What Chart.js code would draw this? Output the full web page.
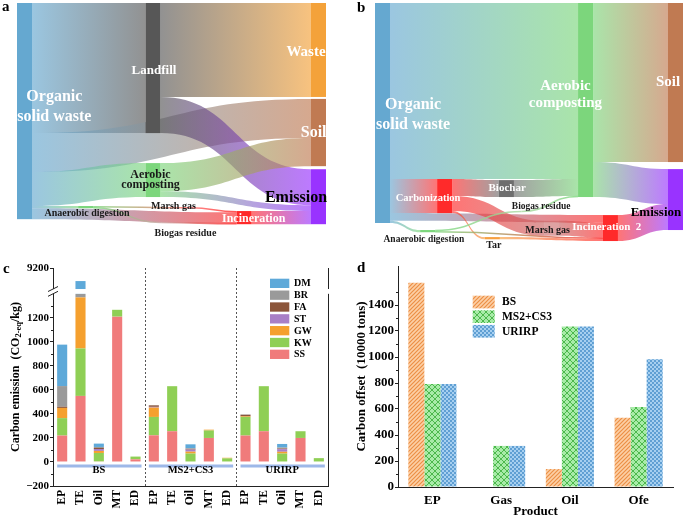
<!DOCTYPE html>
<html>
<head>
<meta charset="utf-8">
<title>Carbon flows, emissions and offsets of organic solid waste</title>
<script src="https://cdn.jsdelivr.net/npm/chart.js@4.4.1/dist/chart.umd.min.js"></script>
<style>
  html, body { margin: 0; padding: 0; background: #fff; }
  #page { position: relative; width: 685px; height: 517px; overflow: hidden; }
  #page canvas { position: absolute; }
  .tag { position: absolute; font: bold 15px "Liberation Serif", "Times New Roman", serif; line-height: 1; color: #000; }
</style>
</head>
<body>
<div id="page">
  <canvas id="flowA" width="345" height="250" style="left:0;top:0"></canvas>
  <canvas id="flowB" width="340" height="250" style="left:345px;top:0"></canvas>
  <canvas id="emission" width="345" height="262" style="left:0;top:255px"></canvas>
  <canvas id="offset" width="340" height="262" style="left:345px;top:255px"></canvas>
  <div class="tag" style="left:2px;top:-1px">a</div>
  <div class="tag" style="left:357px;top:0px">b</div>
  <div class="tag" style="left:3px;top:261px">c</div>
  <div class="tag" style="left:357px;top:260px">d</div>
</div>
<script>
// ---------- a : carbon flow of the current route (share of input, %) ----------
var flowANodes = ['Organic solid waste', 'Anaerobic digestion', 'Landfill', 'Aerobic composting',
                  'Marsh gas', 'Biogas residue', 'Incineration', 'Waste', 'Soil', 'Emission'];
var flowAFrom = ['Organic solid waste', 'Organic solid waste', 'Organic solid waste', 'Organic solid waste',
                 'Organic solid waste', 'Landfill', 'Landfill', 'Aerobic composting', 'Aerobic composting',
                 'Anaerobic digestion', 'Anaerobic digestion', 'Marsh gas', 'Biogas residue', 'Incineration'];
var flowATo = ['Landfill', 'Soil', 'Aerobic composting', 'Anaerobic digestion', 'Incineration',
               'Waste', 'Emission', 'Soil', 'Emission', 'Marsh gas', 'Biogas residue',
               'Incineration', 'Incineration', 'Emission'];
var flowAValue = [59.4, 17.8, 15.5, 1, 5, 42.9, 16.5, 12.9, 2.6, 0.6, 0.4, 0.6, 0.4, 6];

// ---------- b : carbon flow with carbonization (share of input, %) ----------
var flowBNodes = ['Organic solid waste', 'Anaerobic digestion', 'Carbonization', 'Tar', 'Biochar',
                  'Biogas residue', 'Marsh gas', 'Aerobic composting', 'Incineration 2', 'Soil', 'Emission'];
var flowBFrom = ['Organic solid waste', 'Organic solid waste', 'Organic solid waste', 'Organic solid waste',
                 'Carbonization', 'Carbonization', 'Carbonization', 'Biochar',
                 'Anaerobic digestion', 'Anaerobic digestion', 'Biogas residue', 'Marsh gas', 'Tar',
                 'Aerobic composting', 'Aerobic composting', 'Incineration 2'];
var flowBTo = ['Aerobic composting', 'Carbonization', 'Incineration 2', 'Anaerobic digestion',
               'Biochar', 'Marsh gas', 'Tar', 'Aerobic composting',
               'Biogas residue', 'Incineration 2', 'Aerobic composting', 'Incineration 2', 'Incineration 2',
               'Soil', 'Emission', 'Emission'];
var flowBValue = [80, 15.5, 3.5, 1, 7.7, 6.8, 1, 7.7, 0.5, 0.5, 0.5, 6.8, 1, 72.3, 15.9, 11.8];

// ---------- c : carbon emission (CO2-eq/kg) ----------
var scenarios = ['BS', 'MS2+CS3', 'URIRP'];
var products = ['EP', 'TE', 'Oil', 'MT', 'ED'];
var emissionSS = [220, 550, 5, 1210, 22,   222, 256, 0, 200, 0,   220, 256, 0, 200, 0];
var emissionKW = [145, 395, 70, 57, 23,    153, 375, 70, 62, 30,  155, 375, 70, 56, 32];
var emissionGW = [85, 425, 17, 0, 0,       78, 0, 16, 7, 5,       5, 0, 15, 0, 0];
var emissionST = [0, 0, 16, 0, 0,          6, 0, 17, 0, 0,        0, 0, 22, 0, 0];
var emissionFA = [10, 0, 9, 0, 0,          12, 0, 6, 0, 0,        13, 0, 5, 0, 0];
var emissionBR = [172, 35, 8, 0, 0,        3, 0, 5, 0, 0,         3, 0, 8, 0, 0];
var emissionDM = [345, 7360, 28, 0, 0,     0, 0, 33, 0, 0,        0, 0, 30, 0, 0];
var emissionTicks = [-200, 0, 200, 400, 600, 800, 1000, 1200, 9200];

// ---------- d : carbon offset (10000 tons) ----------
var offsetProducts = ['EP', 'Gas', 'Oil', 'Ofe'];
var offsetBS = [1571, 0, 138, 532];
var offsetMS = [792, 316, 1235, 615];
var offsetURIRP = [792, 316, 1235, 983];

// ================= styling and layout =================
Chart.defaults.font.family = '"Liberation Serif", "Times New Roman", serif';
Chart.defaults.font.weight = 'bold';
Chart.defaults.color = '#000';

function serif(size) {
    return 'bold ' + size + 'px "Liberation Serif", "Times New Roman", serif';
}

function rgba(hex, a) {
    var n = parseInt(hex.slice(1), 16);
    return 'rgba(' + (n >> 16) + ',' + ((n >> 8) & 255) + ',' + (n & 255) + ',' + a + ')';
}

function plainNumber(v) {
    return v < 0 ? '\u2212' + (-v) : String(v);
}

// sankey look: column (0..1 across the plot), space above each node in its column, colour
var flowAStyle = {
    cols:   [0, .208, .437, .437, .59, .49, .747, 1, 1, 1],
    gaps:   [0, 92.7, 0, 13.7, 93.2, 100, 95, 0, .9, 1.4],
    colors: ['#65a8d0', '#7cd67c', '#575757', '#7cd67c', '#ff6a6a', '#c9a0a0', '#ff2a2a', '#f4a23a', '#c07a52', '#9933ff'],
    ghost: ['Marsh gas', 'Biogas residue'],
    faded: [],
    labels: [
        { text: ['Organic', 'solid waste'], x: .127, y: 47.5, size: 16, color: '#fff', lh: 20 },
        { text: ['Landfill'], x: .466, y: 31, size: 13, color: '#fff' },
        { text: ['Waste'], x: .983, y: 22.4, size: 15, color: '#fff' },
        { text: ['Soil'], x: 1.009, y: 59.4, size: 16, color: '#fff' },
        { text: ['Emission'], x: .949, y: 89, size: 16, color: '#000' },
        { text: ['Aerobic', 'composting'], x: .454, y: 80.8, size: 12, color: '#1a1a1a', lh: 10.5 },
        { text: ['Anaerobic digestion'], x: .238, y: 95.9, size: 10, color: '#1a1a1a' },
        { text: ['Marsh gas'], x: .532, y: 92.7, size: 10, color: '#1a1a1a' },
        { text: ['Incineration'], x: .805, y: 98.6, size: 12, color: '#fff' },
        { text: ['Biogas residue'], x: .573, y: 105, size: 10, color: '#1a1a1a' }
    ]
};

var flowBStyle = {
    cols:   [0, .154, .212, .375, .423, .5, .577, .693, .778, 1, 1],
    gaps:   [0, 103.2, 80, 106.4, 80.5, 94.5, 99, 0, 96.4, 0, 3.2],
    colors: ['#65a8d0', '#7cd67c', '#ff2a2a', '#f7a040', '#6e6e6e', '#a8d8a0', '#c86464', '#7cd67c', '#ff2a2a', '#c07a52', '#9933ff'],
    ghost: ['Biogas residue'],
    faded: ['Marsh gas'],
    labels: [
        { text: ['Organic', 'solid waste'], x: .130, y: 50.9, size: 16, color: '#fff', lh: 20 },
        { text: ['Aerobic', 'composting'], x: .650, y: 41.6, size: 15, color: '#fff', lh: 17 },
        { text: ['Soil'], x: 1.0, y: 35.9, size: 15, color: '#fff' },
        { text: ['Emission'], x: .959, y: 95.5, size: 13, color: '#000' },
        { text: ['Carbonization'], x: .181, y: 88.8, size: 10.5, color: '#fff' },
        { text: ['Biochar'], x: .451, y: 84.2, size: 11, color: '#fff' },
        { text: ['Biogas residue'], x: .567, y: 92.7, size: 9.5, color: '#1a1a1a' },
        { text: ['Marsh gas'], x: .589, y: 103.2, size: 10, color: '#1a1a1a' },
        { text: ['Incineration  2'], x: .791, y: 102.1, size: 11, color: '#fff' },
        { text: ['Anaerobic digestion'], x: .167, y: 107.4, size: 9.5, color: '#1a1a1a' },
        { text: ['Tar'], x: .406, y: 110, size: 10, color: '#1a1a1a' }
    ]
};

function sankeyPlugin(names, from, to, values, style) {
    return {
        id: 'sankey',
        afterDraw: function (chart) {
            var ctx = chart.ctx, x = chart.scales.x, y = chart.scales.y;
            var nodes = names.map(function (name, i) {
                return { name: name, col: style.cols[i], gap: style.gaps[i], color: style.colors[i],
                         ghost: style.ghost.indexOf(name) >= 0, faded: style.faded.indexOf(name) >= 0,
                         inSum: 0, outSum: 0 };
            });
            var find = function (n) { return nodes.filter(function (d) { return d.name === n; })[0]; };
            var links = from.map(function (f, i) {
                return { src: find(f), dst: find(to[i]), value: values[i] };
            });
            links.forEach(function (l) { l.src.outSum += l.value; l.dst.inSum += l.value; });

            var colEnd = {};
            nodes.forEach(function (n) {
                n.value = Math.max(n.inSum, n.outSum);
                n.top = (colEnd[n.col] || 0) + n.gap;
                colEnd[n.col] = n.top + n.value;
            });
            nodes.forEach(function (n) {
                var off = n.top;
                links.filter(function (l) { return l.src === n; })
                    .sort(function (a, b) { return a.dst.top - b.dst.top; })
                    .forEach(function (l) { l.y0 = off; off += l.value; });
            });
            nodes.forEach(function (n) {
                var off = n.top;
                links.filter(function (l) { return l.dst === n; })
                    .sort(function (a, b) { return a.y0 - b.y0; })
                    .forEach(function (l) { l.y1 = off; off += l.value; });
            });

            var W = 15;
            var left = function (n) { return x.getPixelForValue(n.col); };
            var right = function (n) { return left(n) + (n.ghost ? 0 : W); };

            ctx.save();
            links.forEach(function (l) {
                var x0 = right(l.src), x1 = left(l.dst), xm = (x0 + x1) / 2;
                var a0 = y.getPixelForValue(l.y0), b0 = y.getPixelForValue(l.y0 + l.value);
                var a1 = y.getPixelForValue(l.y1), b1 = y.getPixelForValue(l.y1 + l.value);
                var thin = b0 - a0 < 1.6;
                var grad = ctx.createLinearGradient(x0, 0, x1, 0);
                grad.addColorStop(0, rgba(l.src.color, thin ? 0.8 : 0.65));
                grad.addColorStop(1, rgba(l.dst.color, thin ? 0.8 : 0.65));
                ctx.beginPath();
                if (thin) {
                    var m0 = (a0 + b0) / 2, m1 = (a1 + b1) / 2;
                    ctx.moveTo(x0, m0);
                    ctx.bezierCurveTo(xm, m0, xm, m1, x1, m1);
                    ctx.lineWidth = 1.6;
                    ctx.strokeStyle = grad;
                    ctx.stroke();
                } else {
                    ctx.moveTo(x0, a0);
                    ctx.bezierCurveTo(xm, a0, xm, a1, x1, a1);
                    ctx.lineTo(x1, b1);
                    ctx.bezierCurveTo(xm, b1, xm, b0, x0, b0);
                    ctx.closePath();
                    ctx.fillStyle = grad;
                    ctx.fill();
                }
            });
            nodes.forEach(function (n) {
                if (n.ghost) return;
                var t = y.getPixelForValue(n.top), b = y.getPixelForValue(n.top + n.value);
                ctx.globalAlpha = n.faded ? 0.6 : 1;
                ctx.fillStyle = n.color;
                ctx.fillRect(left(n), t, W, Math.max(b - t, 1.5));
            });
            ctx.globalAlpha = 1;
            ctx.textAlign = 'center';
            ctx.textBaseline = 'middle';
            style.labels.forEach(function (lb) {
                var cx = x.getPixelForValue(lb.x), cy = y.getPixelForValue(lb.y);
                var lh = lb.lh || lb.size;
                ctx.font = serif(lb.size);
                ctx.fillStyle = lb.color;
                lb.text.forEach(function (t, k) {
                    ctx.fillText(t, cx, cy + (k - (lb.text.length - 1) / 2) * lh);
                });
            });
            ctx.restore();
        }
    };
}

function sankeyChart(id, names, from, to, values, style, yMax, pad) {
    return new Chart(document.getElementById(id), {
        type: 'scatter',
        data: { datasets: [{ data: [] }] },
        options: {
            responsive: false,
            animation: false,
            events: [],
            layout: { padding: pad },
            plugins: { legend: { display: false }, tooltip: { enabled: false } },
            scales: {
                x: { type: 'linear', min: 0, max: 1, display: false },
                y: { type: 'linear', min: 0, max: yMax, reverse: true, display: false }
            }
        },
        plugins: [sankeyPlugin(names, from, to, values, style)]
    });
}

sankeyChart('flowA', flowANodes, flowAFrom, flowATo, flowAValue, flowAStyle, 101,
            { left: 17, right: 34, top: 3, bottom: 25.8 });
sankeyChart('flowB', flowBNodes, flowBFrom, flowBTo, flowBValue, flowBStyle, 110,
            { left: 30, right: 17, top: 3, bottom: 5 });

// ---------- c : broken value axis ----------
var BREAK_LOW = 1400, BREAK_HIGH = 8500, BREAK_GAP = 40, UPPER_K = 0.25;

function toAxis(v) {
    if (v <= BREAK_LOW) return v;
    if (v >= BREAK_HIGH) return BREAK_LOW + BREAK_GAP + (v - BREAK_HIGH) * UPPER_K;
    return BREAK_LOW + (v - BREAK_LOW) / (BREAK_HIGH - BREAK_LOW) * BREAK_GAP;
}

class BrokenScale extends Chart.LinearScale {
    getPixelForValue(value) {
        return super.getPixelForValue(toAxis(value));
    }
}
BrokenScale.id = 'broken';
Chart.register(BrokenScale);

var emissionColors = { SS: '#f07b7b', KW: '#8fcf55', GW: '#f5a02e', ST: '#a97fc6', FA: '#8c553a', BR: '#9a9a9a', DM: '#5ea9d9' };
var emissionSeries = [['SS', emissionSS], ['KW', emissionKW], ['GW', emissionGW], ['ST', emissionST],
                      ['FA', emissionFA], ['BR', emissionBR], ['DM', emissionDM]];

var emissionLabels = [];
scenarios.forEach(function () { products.forEach(function (p) { emissionLabels.push(p); }); });

var emissionDecor = {
    id: 'emissionDecor',
    afterDatasetsDraw: function (chart) {
        var ctx = chart.ctx, ca = chart.chartArea, x = chart.scales.x, y = chart.scales.y;
        ctx.save();
        ctx.strokeStyle = '#222';
        ctx.lineWidth = 1;
        ctx.beginPath();
        ctx.moveTo(ca.right + 0.5, ca.top);
        ctx.lineTo(ca.right + 0.5, ca.bottom);
        ctx.stroke();

        // break in the axis
        var yLow = y.getPixelForValue(BREAK_LOW), yHigh = y.getPixelForValue(BREAK_HIGH);
        ctx.fillStyle = '#fff';
        ctx.fillRect(ca.left - 4, yHigh, ca.right - ca.left + 6, yLow - yHigh);
        ctx.beginPath();
        [yLow, yHigh].forEach(function (yy) {
            ctx.moveTo(ca.left - 5, yy + 2.5);
            ctx.lineTo(ca.left + 5, yy - 2.5);
        });
        ctx.stroke();

        // dotted separators between scenarios
        ctx.setLineDash([2, 2]);
        ctx.strokeStyle = '#555';
        for (var g = 1; g < scenarios.length; g++) {
            var xs = Math.round((x.getPixelForValue(g * products.length - 1) + x.getPixelForValue(g * products.length)) / 2) + 0.5;
            ctx.beginPath();
            ctx.moveTo(xs, ca.top);
            ctx.lineTo(xs, ca.bottom);
            ctx.stroke();
        }
        ctx.setLineDash([]);

        // scenario bars and names
        ctx.font = serif(10.5);
        ctx.textAlign = 'center';
        ctx.textBaseline = 'middle';
        scenarios.forEach(function (s, g) {
            var x1 = x.getPixelForValue(g * products.length) - 5;
            var x2 = x.getPixelForValue(g * products.length + products.length - 1) + 6;
            var yl = y.getPixelForValue(-33);
            ctx.strokeStyle = '#9db8e8';
            ctx.lineWidth = 3;
            ctx.beginPath();
            ctx.moveTo(x1, yl);
            ctx.lineTo(x2, yl);
            ctx.stroke();
            ctx.fillStyle = '#000';
            ctx.fillText(s, x.getPixelForValue(g * products.length + 2), y.getPixelForValue(-72));
        });
        ctx.restore();
    },
    afterDraw: function (chart) {
        var ctx = chart.ctx, ca = chart.chartArea, y = chart.scales.y;
        ctx.save();
        // minor ticks
        ctx.strokeStyle = '#222';
        ctx.lineWidth = 1;
        ctx.beginPath();
        for (var v = -100; v < BREAK_LOW; v += 200) {
            var yy = Math.round(y.getPixelForValue(v)) + 0.5;
            ctx.moveTo(ca.left - 2, yy);
            ctx.lineTo(ca.left, yy);
        }
        ctx.stroke();

        // legend
        ctx.font = serif(10);
        ctx.textAlign = 'left';
        ctx.textBaseline = 'middle';
        chart.data.datasets.slice().reverse().forEach(function (d, i) {
            var yc = ca.top + 15.3 + i * 11.83;
            ctx.fillStyle = d.backgroundColor;
            ctx.fillRect(ca.right - 58, yc - 4.6, 19.3, 9.3);
            ctx.fillStyle = '#000';
            ctx.fillText(d.label, ca.right - 34, yc + 0.5);
        });

        // y title with subscript
        var parts = [{ t: 'Carbon emission  (CO', s: 12, d: 0 }, { t: '2-eq', s: 8.5, d: 3 }, { t: '/kg)', s: 12, d: 0 }];
        var total = 0;
        parts.forEach(function (p) { ctx.font = serif(p.s); p.w = ctx.measureText(p.t).width; total += p.w; });
        ctx.translate(16, (ca.top + ca.bottom) / 2);
        ctx.rotate(-Math.PI / 2);
        var px = -total / 2;
        ctx.fillStyle = '#000';
        parts.forEach(function (p) { ctx.font = serif(p.s); ctx.fillText(p.t, px, p.d); px += p.w; });
        ctx.restore();
    }
};

new Chart(document.getElementById('emission'), {
    type: 'bar',
    data: {
        labels: emissionLabels,
        datasets: emissionSeries.map(function (s) {
            return { label: s[0], data: s[1], backgroundColor: emissionColors[s[0]],
                     borderWidth: 0, categoryPercentage: 1, barPercentage: 0.55 };
        })
    },
    options: {
        responsive: false,
        animation: false,
        events: [],
        layout: { padding: { left: 0, right: 17, top: 13, bottom: 0 } },
        plugins: { legend: { display: false }, tooltip: { enabled: false } },
        scales: {
            x: {
                stacked: true,
                grid: { display: false, drawTicks: false },
                border: { display: true, color: '#222' },
                ticks: { minRotation: 90, maxRotation: 90, autoSkip: false, padding: 4, font: { size: 11.5 } },
                afterFit: function (s) { s.height = 31; }
            },
            y: {
                type: 'broken',
                stacked: true,
                min: -200,
                max: toAxis(9200),
                grid: { drawOnChartArea: false, tickLength: 3, color: '#222' },
                border: { color: '#222' },
                ticks: { autoSkip: false, padding: 1, font: { size: 11 }, callback: plainNumber },
                afterBuildTicks: function (s) { s.ticks = emissionTicks.map(function (v) { return { value: v }; }); },
                afterFit: function (s) { s.width = 53; }
            }
        }
    },
    plugins: [emissionDecor]
});

// ---------- d : hatched grouped bars ----------
var offsetCtx = document.getElementById('offset').getContext('2d');

function hatch(bg, fg, size, cross, width) {
    var c = document.createElement('canvas');
    c.width = c.height = size;
    var g = c.getContext('2d');
    g.fillStyle = bg;
    g.fillRect(0, 0, size, size);
    g.strokeStyle = fg;
    g.lineWidth = width;
    g.beginPath();
    g.moveTo(0, size); g.lineTo(size, 0);
    g.moveTo(-1, 1); g.lineTo(1, -1);
    g.moveTo(size - 1, size + 1); g.lineTo(size + 1, size - 1);
    if (cross) {
        g.moveTo(0, 0); g.lineTo(size, size);
        g.moveTo(-1, size - 1); g.lineTo(1, size + 1);
        g.moveTo(size - 1, -1); g.lineTo(size + 1, 1);
    }
    g.stroke();
    return offsetCtx.createPattern(c, 'repeat');
}

var offsetFill = [hatch('#fcd0a6', '#ec8f45', 4, false, 1.2),
                  hatch('#a8eba8', '#4cb84c', 6, true, 1),
                  hatch('#a6cff0', '#5f9fd3', 4, true, 1)];

var offsetDecor = {
    id: 'offsetDecor',
    afterDraw: function (chart) {
        var ctx = chart.ctx, ca = chart.chartArea, y = chart.scales.y;
        ctx.save();
        ctx.strokeStyle = '#222';
        ctx.lineWidth = 1;
        ctx.beginPath();
        for (var v = 100; v < 1700; v += 200) {
            var yy = Math.round(y.getPixelForValue(v)) + 0.5;
            ctx.moveTo(ca.left - 2, yy);
            ctx.lineTo(ca.left, yy);
        }
        ctx.stroke();

        ctx.font = serif(11.5);
        ctx.textAlign = 'left';
        ctx.textBaseline = 'middle';
        chart.data.datasets.forEach(function (d, i) {
            var top = ca.top + 29.7 + i * 14.6;
            ctx.fillStyle = d.backgroundColor;
            ctx.fillRect(ca.left + 74.7, top, 22, 12.7);
            ctx.fillStyle = '#000';
            ctx.fillText(d.label, ca.left + 104, top + 6.8);
        });

        ctx.font = serif(13);
        ctx.textAlign = 'center';
        ctx.fillText('Product', (ca.left + ca.right) / 2, ca.bottom + 25);
        ctx.translate(16.7, (ca.top + ca.bottom) / 2);
        ctx.rotate(-Math.PI / 2);
        ctx.fillText('Carbon offset  (10000 tons)', 0, 0);
        ctx.restore();
    }
};

new Chart(offsetCtx, {
    type: 'bar',
    data: {
        labels: offsetProducts,
        datasets: [
            { label: 'BS', data: offsetBS },
            { label: 'MS2+CS3', data: offsetMS },
            { label: 'URIRP', data: offsetURIRP }
        ].map(function (d, i) {
            d.backgroundColor = offsetFill[i];
            d.borderWidth = 0;
            d.categoryPercentage = 0.7;
            d.barPercentage = 1;
            return d;
        })
    },
    options: {
        responsive: false,
        animation: false,
        events: [],
        layout: { padding: { left: 0, right: 12, top: 11, bottom: 0 } },
        plugins: { legend: { display: false }, tooltip: { enabled: false } },
        scales: {
            x: {
                grid: { display: false, drawTicks: false },
                border: { display: true, color: '#222' },
                ticks: { padding: 6, font: { size: 13 } },
                afterFit: function (s) { s.height = 30; }
            },
            y: {
                min: 0,
                max: 1700,
                grid: { drawOnChartArea: false, tickLength: 3, color: '#222' },
                border: { color: '#222' },
                ticks: { stepSize: 200, padding: 1, font: { size: 13 }, callback: plainNumber },
                afterBuildTicks: function (s) { s.ticks = s.ticks.filter(function (t) { return t.value <= 1600; }); },
                afterFit: function (s) { s.width = 53; }
            }
        }
    },
    plugins: [offsetDecor]
});
</script>
</body>
</html>
